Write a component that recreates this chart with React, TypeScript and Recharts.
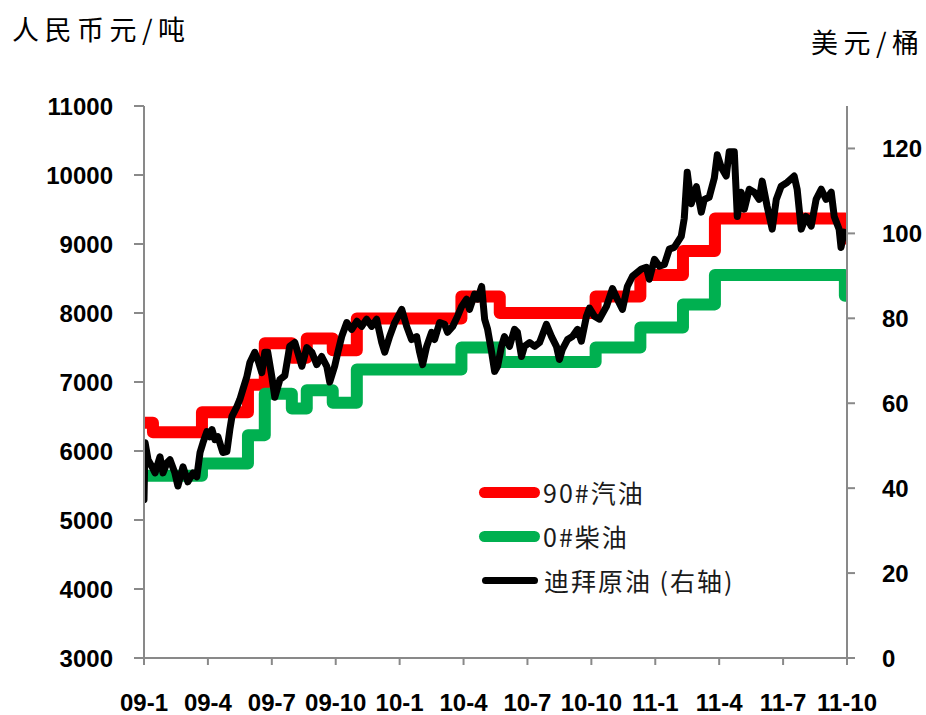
import { ComposedChart, Line, XAxis, YAxis } from "recharts";

// x values are months counted from 2009-01 (0 = 09-1, 33 = 11-10)
const xTicks = [0, 3, 6, 9, 12, 15, 18, 21, 24, 27, 30, 33];
const xLabels = ["09-1", "09-4", "09-7", "09-10", "10-1", "10-4", "10-7", "10-10", "11-1", "11-4", "11-7", "11-10"];
const leftTicks = [3000, 4000, 5000, 6000, 7000, 8000, 9000, 10000, 11000];
const rightTicks = [0, 20, 40, 60, 80, 100, 120];

// 90# gasoline, yuan/ton, price level from each adjustment date on
const gasolineMonths = [0, 0.42, 2.72, 4.88, 5.67, 6.94, 7.64, 8.86, 9.99, 14.9, 16.7, 21.2, 23.3, 25.3, 26.8, 32.9, 33];
const gasolinePrice = [6410, 6270, 6560, 6960, 7560, 7350, 7630, 7460, 7920, 8240, 8000, 8240, 8550, 8900, 9370, 9080, 9080];

// 0# diesel, yuan/ton
const dieselMonths = [0, 2.72, 4.88, 5.67, 6.94, 7.64, 8.86, 9.99, 14.9, 16.7, 21.2, 23.3, 25.3, 26.8, 32.9, 33];
const dieselPrice = [5640, 5820, 6230, 6830, 6615, 6880, 6700, 7180, 7500, 7290, 7500, 7790, 8125, 8550, 8250, 8250];

// Dubai crude, USD/barrel (right axis)
const crudeMonths = [
  0, 0.05, 0.19, 0.38, 0.52, 0.75, 0.89, 1.08, 1.22, 1.45, 1.59, 1.83, 2.06, 2.3, 2.48, 2.63, 2.77, 2.95,
  3.09, 3.19, 3.33, 3.47, 3.7, 3.89, 4.03, 4.13, 4.36, 4.5, 4.64, 4.83, 4.97, 5.2, 5.34, 5.53, 5.67, 5.81,
  6.0, 6.14, 6.38, 6.61, 6.84, 7.08, 7.41, 7.64, 7.88, 8.11, 8.34, 8.58, 8.72, 8.95, 9.1, 9.28, 9.52, 9.75,
  9.99, 10.22, 10.45, 10.69, 10.92, 11.16, 11.3, 11.53, 11.77, 12.1, 12.33, 12.56, 12.8, 12.94, 13.08, 13.27,
  13.5, 13.64, 13.88, 14.11, 14.25, 14.49, 14.72, 14.91, 15.14, 15.28, 15.52, 15.66, 15.85, 15.99, 16.13,
  16.32, 16.46, 16.6, 16.78, 16.92, 17.16, 17.39, 17.53, 17.72, 17.86, 18.1, 18.33, 18.57, 18.89, 19.13,
  19.36, 19.5, 19.64, 19.88, 20.11, 20.35, 20.53, 20.77, 20.91, 21.14, 21.38, 21.71, 21.99, 22.22, 22.46,
  22.69, 22.93, 23.35, 23.58, 23.72, 23.96, 24.19, 24.43, 24.66, 24.89, 25.22, 25.36, 25.5, 25.69, 25.93,
  26.16, 26.3, 26.53, 26.77, 26.91, 27.1, 27.33, 27.47, 27.71, 27.85, 28.03, 28.18, 28.41, 28.65, 28.88,
  29.02, 29.25, 29.49, 29.68, 29.91, 30.19, 30.52, 30.66, 30.85, 31.08, 31.32, 31.55, 31.79, 32.02, 32.26,
  32.4, 32.63, 32.72, 32.86, 32.96,
];
const crudePrice = [
  37.3, 50.7, 46.7, 45.0, 43.6, 47.4, 43.6, 46.0, 46.7, 43.6, 40.5, 45.0, 41.5, 43.6, 42.7, 48.4, 50.7, 53.3,
  52.1, 53.8, 51.4, 52.1, 48.4, 48.6, 53.8, 56.9, 59.2, 60.9, 63.2, 66.3, 69.6, 72.0, 70.3, 67.2, 72.0, 72.0,
  66.3, 61.4, 65.6, 66.5, 73.4, 74.3, 68.7, 73.1, 72.0, 69.1, 71.0, 68.7, 65.0, 68.7, 72.0, 75.7, 79.0, 77.4,
  79.3, 78.1, 79.8, 78.1, 79.8, 74.3, 72.0, 75.7, 79.0, 82.1, 78.1, 75.0, 75.7, 72.0, 69.1, 73.4,
  76.7, 75.0, 79.0, 78.6, 76.7, 78.1, 80.5, 82.8, 84.5, 82.1, 85.7, 84.5, 87.5, 79.8, 77.4,
  72.0, 67.5, 68.7, 73.4, 75.7, 73.4, 77.4, 76.7, 71.0, 73.4, 74.3, 73.4, 74.3, 78.6, 75.7,
  73.4, 70.3, 72.7, 75.0, 75.7, 77.4, 74.6, 80.5, 82.4, 80.5, 79.8, 82.8, 87.0, 84.5, 82.1,
  87.5, 89.9, 91.6, 92.0, 89.2, 93.9, 92.3, 92.7, 96.3, 96.7, 99.3, 103.5, 114.4, 107.0, 111.0,
  105.0, 108.0, 108.5, 113.0, 118.5, 115.5, 113.5, 119.2, 119.2, 104.0, 109.7, 105.7, 110.4, 109.7, 108.0,
  112.3, 106.4, 101.0, 108.0, 111.1, 112.0, 113.5, 110.4, 101.0, 104.0, 101.7, 108.0, 110.4, 108.0, 109.7,
  104.0, 101.0, 96.7, 100.3, 99.8,
];

const gasolineData = gasolineMonths.map((m, i) => ({ m, v: gasolinePrice[i] }));
const dieselData = dieselMonths.map((m, i) => ({ m, v: dieselPrice[i] }));
const crudeData = crudeMonths.map((m, i) => ({ m, v: crudePrice[i] }));

const legendItems = [
  { name: "90#汽油", color: "#ff0000", thick: 11 },
  { name: "0#柴油", color: "#00b050", thick: 11 },
  { name: "迪拜原油 (右轴)", color: "#000000", thick: 7 },
];

const tickStyle = { fill: "#000", fontSize: 24, fontWeight: 700, fontFamily: "'Liberation Sans', Arial, sans-serif" };
const cjk = "'Noto Sans CJK SC', sans-serif";
const axisStroke = { stroke: "#898989", strokeWidth: 2 };

// legend drawn over the plot, bottom-right of centre like the original
function OilLegend() {
  return (
    <div style={{ position: "absolute", left: 479, top: 470, fontFamily: cjk, fontSize: 25, color: "#1a1a1a", letterSpacing: 2 }}>
      {legendItems.map((it) => (
        <div key={it.name} style={{ display: "flex", alignItems: "center", height: 44 }}>
          <div
            style={{
              width: it.thick > 8 ? 61 : 56,
              marginLeft: it.thick > 8 ? 0 : 3,
              marginRight: it.thick > 8 ? 3 : 6,
              height: it.thick,
              borderRadius: it.thick / 2,
              background: it.color,
            }}
          />
          <span>{it.name}</span>
        </div>
      ))}
    </div>
  );
}

export default function App() {
  return (
    <div style={{ position: "absolute", left: 0, top: 0, width: 926, height: 715, background: "#fff" }}>
      <ComposedChart width={926} height={715} margin={{ top: 106, right: 0, bottom: 7, left: 44 }}>
        <XAxis
          dataKey="m"
          type="number"
          domain={[0, 33]}
          ticks={xTicks}
          tickFormatter={(v: number) => xLabels[xTicks.indexOf(v)] ?? ""}
          allowDataOverflow
          height={50}
          tick={tickStyle}
          tickSize={7}
          tickMargin={29}
          axisLine={axisStroke}
          tickLine={axisStroke}
          interval={0}
        />
        <YAxis
          yAxisId="left"
          domain={[3000, 11000]}
          ticks={leftTicks}
          width={100}
          tick={tickStyle}
          tickSize={10}
          tickMargin={21}
          axisLine={axisStroke}
          tickLine={axisStroke}
          interval={0}
        />
        <YAxis
          yAxisId="right"
          orientation="right"
          domain={[0, 130]}
          ticks={rightTicks}
          width={79}
          tick={{ ...tickStyle, textAnchor: "start" }}
          tickSize={8}
          tickMargin={27}
          axisLine={axisStroke}
          tickLine={axisStroke}
          interval={0}
        />
        <Line
          yAxisId="left"
          data={gasolineData}
          dataKey="v"
          type="stepAfter"
          stroke="#ff0000"
          strokeWidth={12}
          strokeLinejoin="round"
          strokeLinecap="round"
          dot={false}
          activeDot={false}
          isAnimationActive={false}
        />
        <Line
          yAxisId="left"
          data={dieselData}
          dataKey="v"
          type="stepAfter"
          stroke="#00b050"
          strokeWidth={12}
          strokeLinejoin="round"
          strokeLinecap="round"
          dot={false}
          activeDot={false}
          isAnimationActive={false}
        />
        <Line
          yAxisId="right"
          data={crudeData}
          dataKey="v"
          type="linear"
          stroke="#000000"
          strokeWidth={7}
          strokeLinejoin="round"
          strokeLinecap="round"
          dot={false}
          activeDot={false}
          isAnimationActive={false}
        />
      </ComposedChart>
      <OilLegend />
      <div style={{ position: "absolute", left: 12, top: 15, fontFamily: cjk, fontSize: 27, lineHeight: "27px", letterSpacing: 5.5, color: "#000" }}>
        人民币元/吨
      </div>
      <div style={{ position: "absolute", left: 811, top: 28, fontFamily: cjk, fontSize: 27, lineHeight: "27px", letterSpacing: 5.5, color: "#000" }}>
        美元/桶
      </div>
    </div>
  );
}
